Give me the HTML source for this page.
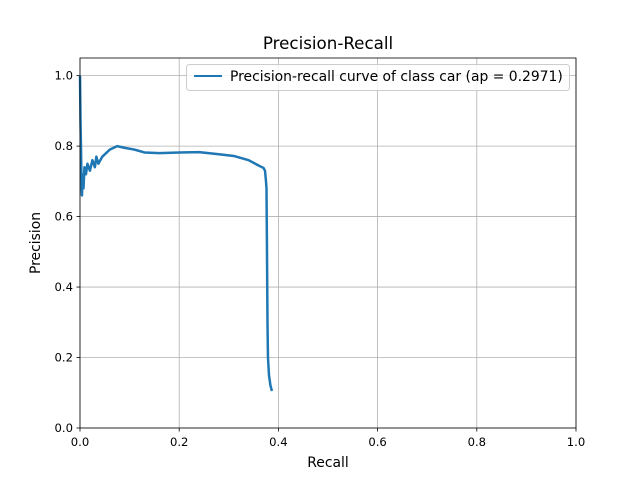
<!DOCTYPE html>
<html><head><meta charset="utf-8"><style>
body{margin:0;background:#fff;}
svg{font-family:"DejaVu Sans","Liberation Sans",sans-serif;}
</style></head><body>
<svg id="chart" width="640" height="480"></svg>
<script>
const recall=[0,0.001,0.002,0.003,0.004,0.005,0.007,0.009,0.012,0.015,0.02,0.025,0.03,0.033,0.037,0.045,0.06,0.075,0.09,0.11,0.13,0.16,0.2,0.24,0.28,0.31,0.34,0.36,0.37,0.373,0.375,0.376,0.377,0.378,0.379,0.381,0.384,0.387];
const precision=[1.0,0.87,0.80,0.70,0.66,0.72,0.68,0.74,0.72,0.75,0.73,0.76,0.74,0.77,0.75,0.77,0.79,0.80,0.795,0.79,0.782,0.78,0.782,0.783,0.777,0.772,0.76,0.745,0.738,0.73,0.70,0.68,0.5,0.3,0.2,0.15,0.12,0.105];
const xTicks=[0,0.2,0.4,0.6,0.8,1.0];
const yTicks=[0,0.2,0.4,0.6,0.8,1.0];
const tickLabels=["0.0","0.2","0.4","0.6","0.8","1.0"];
const L=80,R=576,T=58,B=428;
const sx=v=>L+v*(R-L);
const sy=v=>B-v/1.05*(B-T);
const svg=document.getElementById('chart');
const NS='http://www.w3.org/2000/svg';
function mk(t,a,p){const e=document.createElementNS(NS,t);for(const k in a)e.setAttribute(k,a[k]);(p||svg).appendChild(e);return e;}
xTicks.forEach((v,i)=>{
 const g=mk('line',{x1:sx(v),x2:sx(v),y1:T,y2:B,stroke:'#b0b0b0','stroke-width':0.8});
 
 
 mk('line',{x1:sx(v),x2:sx(v),y1:B,y2:B+3.5,stroke:'#000','stroke-width':0.8});
 const t=mk('text',{x:sx(v),y:B+18,'text-anchor':'middle','font-size':11.6});t.textContent=tickLabels[i];
 
 
});
yTicks.forEach((v,i)=>{
 const g=mk('line',{x1:L,x2:R,y1:sy(v),y2:sy(v),stroke:'#b0b0b0','stroke-width':0.8});
 
 
 mk('line',{x1:L-3.5,x2:L,y1:sy(v),y2:sy(v),stroke:'#000','stroke-width':0.8});
 const t=mk('text',{x:L-7,y:sy(v)+4,'text-anchor':'end','font-size':11.6});t.textContent=tickLabels[i];
 
 
});
const d=recall.map((r,i)=>(i?'L':'M')+sx(r).toFixed(2)+','+sy(precision[i]).toFixed(2)).join('');
const line=mk('path',{d:d,fill:'none',stroke:'#1f77b4','stroke-width':2.5,'stroke-linejoin':'round'});


const fr=mk('rect',{x:L,y:T,width:R-L,height:B-T,fill:'none',stroke:'#000','stroke-width':0.8});


</script>
<svg style="position:absolute;left:0;top:0" width="640" height="480" font-family="DejaVu Sans, Liberation Sans, sans-serif">
<text x="328" y="49" text-anchor="middle" font-size="16.7">Precision-Recall</text>
<text x="328" y="467" text-anchor="middle" font-size="13.9">Recall</text>
<text x="0" y="0" transform="translate(40,243) rotate(-90)" text-anchor="middle" font-size="13.9">Precision</text>
<g>
<rect x="186.5" y="64.5" width="383" height="26" rx="3" fill="#fff" fill-opacity="0.8" stroke="#ccc"/>
<line x1="194" x2="222" y1="76" y2="76" stroke="#1f77b4" stroke-width="2"/>
<text x="230" y="81" font-size="13.9">Precision-recall curve of class car (ap = 0.2971)</text>
</g>
</svg>
</body></html>
